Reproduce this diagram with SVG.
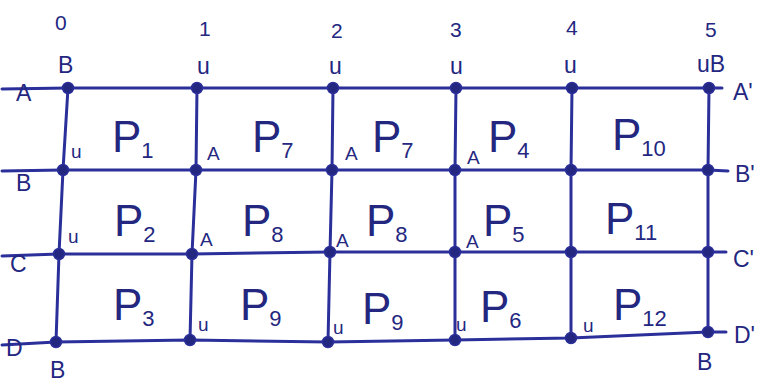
<svg xmlns="http://www.w3.org/2000/svg" width="764" height="385" viewBox="0 0 764 385">
<style>
.ln{stroke:#2b2f9a;stroke-width:3;fill:none;stroke-linecap:round;stroke-linejoin:round}
.dot{fill:#23277f;stroke:#2b2f9a;stroke-width:1.5}
text{font-family:"Liberation Sans",Arial,sans-serif;fill:#23277f}
.num{font-size:21px}
.lab{font-size:23px}
.sm{font-size:19px}
.p{font-size:44px}
.sub{font-size:22px}
</style>
<rect width="764" height="385" fill="#ffffff"/>
<g id="connectors">
<polyline class="ln" points="2,89 68,88 197,88 333,88 456,88 572,88 709,88 722,88"/>
<polyline class="ln" points="2,171 63,170 196,170 332,170 455,170 571,170 708,170 728,171"/>
<polyline class="ln" points="2,256 59,254 192,254 330,252 455,252 571,252 708,252 726,252"/>
<polyline class="ln" points="2,345 56,342 190,340 328,342 455,340 571,338 708,332 726,332"/>
<polyline class="ln" points="68,88 63,170 59,254 56,342"/>
<polyline class="ln" points="197,88 196,170 192,254 190,340"/>
<polyline class="ln" points="333,88 332,170 330,252 328,342"/>
<polyline class="ln" points="456,88 455,170 455,252 455,340"/>
<polyline class="ln" points="572,88 571,170 571,252 571,338"/>
<polyline class="ln" points="709,88 708,170 708,252 708,332"/>
</g>
<g id="n00"><circle class="dot" cx="68" cy="88" r="5.5"/></g>
<g id="n01"><circle class="dot" cx="197" cy="88" r="5.5"/></g>
<g id="n02"><circle class="dot" cx="333" cy="88" r="5.5"/></g>
<g id="n03"><circle class="dot" cx="456" cy="88" r="5.5"/></g>
<g id="n04"><circle class="dot" cx="572" cy="88" r="5.5"/></g>
<g id="n05"><circle class="dot" cx="709" cy="88" r="5.5"/></g>
<g id="n10"><circle class="dot" cx="63" cy="170" r="5.5"/></g>
<g id="n11"><circle class="dot" cx="196" cy="170" r="5.5"/></g>
<g id="n12"><circle class="dot" cx="332" cy="170" r="5.5"/></g>
<g id="n13"><circle class="dot" cx="455" cy="170" r="5.5"/></g>
<g id="n14"><circle class="dot" cx="571" cy="170" r="5.5"/></g>
<g id="n15"><circle class="dot" cx="708" cy="170" r="5.5"/></g>
<g id="n20"><circle class="dot" cx="59" cy="254" r="5.5"/></g>
<g id="n21"><circle class="dot" cx="192" cy="254" r="5.5"/></g>
<g id="n22"><circle class="dot" cx="330" cy="252" r="5.5"/></g>
<g id="n23"><circle class="dot" cx="455" cy="252" r="5.5"/></g>
<g id="n24"><circle class="dot" cx="571" cy="252" r="5.5"/></g>
<g id="n25"><circle class="dot" cx="708" cy="252" r="5.5"/></g>
<g id="n30"><circle class="dot" cx="56" cy="342" r="5.5"/></g>
<g id="n31"><circle class="dot" cx="190" cy="340" r="5.5"/></g>
<g id="n32"><circle class="dot" cx="328" cy="342" r="5.5"/></g>
<g id="n33"><circle class="dot" cx="455" cy="340" r="5.5"/></g>
<g id="n34"><circle class="dot" cx="571" cy="338" r="5.5"/></g>
<g id="n35"><circle class="dot" cx="708" cy="332" r="5.5"/></g>
<g id="column-labels">
<text class="num" x="55" y="30">0</text>
<text class="num" x="199" y="36">1</text>
<text class="num" x="331" y="38">2</text>
<text class="num" x="450" y="37">3</text>
<text class="num" x="566" y="35">4</text>
<text class="num" x="705" y="37">5</text>
</g>
<g id="top-labels">
<text class="lab" x="58" y="73">B</text>
<text class="lab" x="197" y="74">u</text>
<text class="lab" x="329" y="74">u</text>
<text class="lab" x="450" y="74">u</text>
<text class="lab" x="564" y="73">u</text>
<text class="lab" x="697" y="72">uB</text>
</g>
<g id="row-labels">
<text class="lab" x="16" y="101">A</text>
<text class="lab" x="16" y="191">B</text>
<text class="lab" x="10" y="272">C</text>
<text class="lab" x="6" y="356">D</text>
<text class="lab" x="733" y="100">A'</text>
<text class="lab" x="735" y="182">B'</text>
<text class="lab" x="733" y="267">C'</text>
<text class="lab" x="734" y="343">D'</text>
<text class="lab" x="50" y="378">B</text>
<text class="lab" x="697" y="370">B</text>
</g>
<g id="cell-corner-labels">
<text class="sm" x="71" y="158">u</text>
<text class="sm" x="207" y="160">A</text>
<text class="sm" x="345" y="160">A</text>
<text class="sm" x="467" y="164">A</text>
<text class="sm" x="68" y="243">u</text>
<text class="sm" x="200" y="246">A</text>
<text class="sm" x="336" y="247">A</text>
<text class="sm" x="466" y="248">A</text>
<text class="sm" x="198" y="331">u</text>
<text class="sm" x="333" y="334">u</text>
<text class="sm" x="456" y="331">u</text>
<text class="sm" x="583" y="332">u</text>
</g>
<g id="cell-labels">
<text x="112" y="152"><tspan class="p">P</tspan><tspan class="sub" dy="6">1</tspan></text>
<text x="252" y="152"><tspan class="p">P</tspan><tspan class="sub" dy="6">7</tspan></text>
<text x="372" y="152"><tspan class="p">P</tspan><tspan class="sub" dy="6">7</tspan></text>
<text x="488" y="152"><tspan class="p">P</tspan><tspan class="sub" dy="6">4</tspan></text>
<text x="612" y="150"><tspan class="p">P</tspan><tspan class="sub" dy="6">10</tspan></text>
<text x="114" y="236"><tspan class="p">P</tspan><tspan class="sub" dy="6">2</tspan></text>
<text x="242" y="236"><tspan class="p">P</tspan><tspan class="sub" dy="6">8</tspan></text>
<text x="366" y="236"><tspan class="p">P</tspan><tspan class="sub" dy="6">8</tspan></text>
<text x="483" y="236"><tspan class="p">P</tspan><tspan class="sub" dy="6">5</tspan></text>
<text x="605" y="234"><tspan class="p">P</tspan><tspan class="sub" dy="6">11</tspan></text>
<text x="113" y="320"><tspan class="p">P</tspan><tspan class="sub" dy="6">3</tspan></text>
<text x="240" y="320"><tspan class="p">P</tspan><tspan class="sub" dy="6">9</tspan></text>
<text x="362" y="324"><tspan class="p">P</tspan><tspan class="sub" dy="6">9</tspan></text>
<text x="480" y="322"><tspan class="p">P</tspan><tspan class="sub" dy="6">6</tspan></text>
<text x="613" y="320"><tspan class="p">P</tspan><tspan class="sub" dy="6">12</tspan></text>
</g>
</svg>
